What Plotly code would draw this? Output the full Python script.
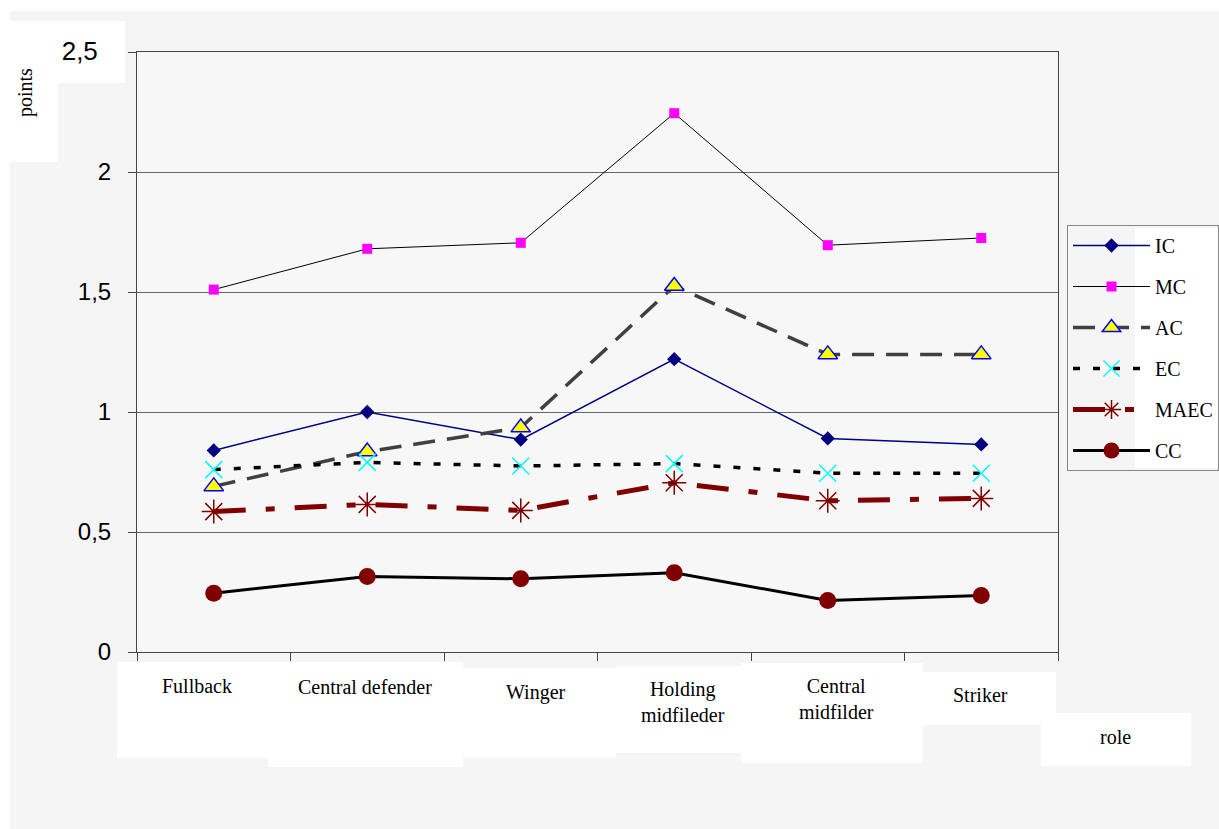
import plotly.graph_objects as go

# Player roles on the category axis
roles = ["Fullback", "Central defender", "Winger", "Holding midfileder",
         "Central midfilder", "Striker"]
role_labels = ["Fullback", "Central defender", "Winger", "Holding<br>midfileder",
               "Central<br>midfilder", "Striker"]

# Scores per role
ic = [0.84, 1.00, 0.885, 1.22, 0.89, 0.865]
mc = [1.51, 1.68, 1.705, 2.245, 1.695, 1.725]
ac = [0.69, 0.835, 0.935, 1.525, 1.24, 1.24]
ec = [0.76, 0.79, 0.775, 0.785, 0.745, 0.745]
maec = [0.585, 0.615, 0.59, 0.705, 0.63, 0.64]
cc = [0.245, 0.315, 0.305, 0.33, 0.215, 0.235]

y_ticks = [0, 0.5, 1, 1.5, 2, 2.5]
y_tick_text = ["0", "0,5", "1", "1,5", "2", "<span style='font-size:26px'>2,5</span>&nbsp;&nbsp;"]

W, H = 1219, 829
L, R, T, B = 137, 1058, 52, 652


def px(x):
    return (x - L) / (R - L)


def py(y):
    return (B - y) / (B - T)


serif = "Liberation Serif, Times New Roman, serif"
sans = "Liberation Sans, Arial, sans-serif"

fig = go.Figure()

series = [
    ("IC", ic, dict(color="#000080", width=1.5), dict(symbol="diamond", size=11, color="#000080")),
    ("MC", mc, dict(color="#000000", width=1), dict(symbol="square", size=10, color="#ff00ff")),
    ("AC", ac, dict(color="#404040", width=3.5, dash="22px,12px"),
     dict(symbol="triangle-up", size=17, color="#ffff00", line=dict(color="#0000ff", width=1.5))),
    ("EC", ec, dict(color="#000000", width=3.5, dash="7px,13px"),
     dict(symbol="x-thin", size=17, line=dict(color="#00ffff", width=1.5))),
    ("MAEC", maec, dict(color="#800000", width=5, dash="32px,20px,9px,20px"),
     dict(symbol="asterisk-open", size=20, line=dict(color="#800080", width=1.5))),
    ("CC", cc, dict(color="#000000", width=3), dict(symbol="circle", size=17, color="#800000")),
]

for name, vals, line, marker in series:
    fig.add_trace(go.Scatter(x=roles, y=vals, name=name, mode="lines+markers",
                             line=line, marker=marker, legendgroup=name))

shapes = []
white = dict(type="rect", xref="paper", yref="paper", layer="below",
             fillcolor="white", line=dict(width=0))


def box(x0, y0, x1, y1):
    d = dict(white)
    d.update(x0=px(x0), x1=px(x1), y0=py(y1), y1=py(y0))
    return d


# white page edge and label backing boxes
shapes += [
    box(0, 0, W, 11), box(0, 0, 10, H),
    box(10, 21, 58, 162), box(42, 21, 125, 83),
    box(117, 662, 268, 758), box(268, 662, 463, 767), box(463, 668, 616, 758),
    box(616, 666, 741, 753), box(741, 663, 923, 763), box(923, 672, 1056, 725),
    box(1041, 713, 1191, 766),
    box(1135, 228, W, 468),
]


def label(text, x, y, angle=0):
    return dict(text=text, textangle=angle, x=px(x), y=py(y), xref="paper", yref="paper",
                xanchor="center", yanchor="middle", showarrow=False,
                font=dict(family=serif, size=20, color="black"))


annotations = [label("points", 25, 93, -90), label("role", 1115, 737)]
label_pos = [(197, 686), (365, 687), (536, 692), (683, 702), (836, 699), (980, 695)]
for lab, (lx, ly) in zip(role_labels, label_pos):
    annotations.append(label(lab, lx, ly))

fig.update_layout(
    width=W, height=H,
    margin=dict(l=L, r=W - R, t=T, b=H - B, pad=0, autoexpand=False),
    paper_bgcolor="#f5f5f5",
    plot_bgcolor="#f7f7f7",
    showlegend=True,
    legend=dict(x=px(1067), y=py(225), xanchor="left", yanchor="top",
                bgcolor="rgba(0,0,0,0)", bordercolor="#888888", borderwidth=1,
                font=dict(family=serif, size=20, color="black"),
                tracegroupgap=12, itemwidth=77),
    shapes=shapes,
    annotations=annotations,
    xaxis=dict(type="category", range=[-0.5, 5.5], showgrid=False,
               showticklabels=False, ticks="outside", ticklen=8, tickcolor="#444",
               tickson="boundaries", showline=True, linecolor="#444", linewidth=1,
               mirror=True, zeroline=False),
    yaxis=dict(range=[0, 2.5], tickvals=y_ticks, ticktext=y_tick_text,
               tickfont=dict(family=sans, size=24, color="black"),
               ticks="outside", ticklen=8, tickcolor="#444",
               showgrid=True, gridcolor="#666666", gridwidth=1,
               showline=True, linecolor="#444", linewidth=1, mirror=True,
               zeroline=False, ticklabelstandoff=12),
)

fig.write_html("out.html")
